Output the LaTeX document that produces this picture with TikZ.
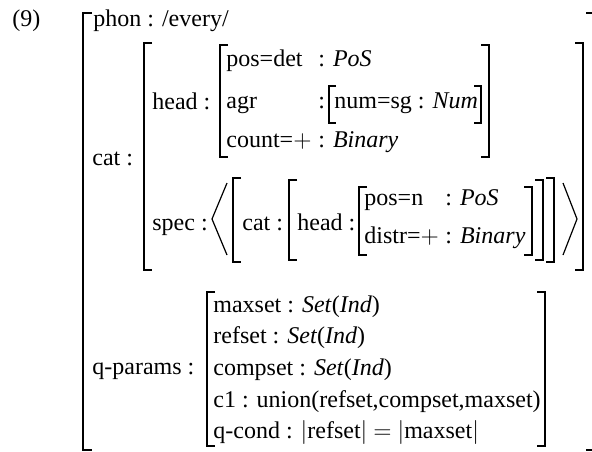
\documentclass[tikz,border=0pt]{standalone}
\usepackage{fontspec}
\setmainfont{Liberation Serif}

% square brackets of the feature matrices: x, top, bottom, tick length
\newcommand{\avmL}[4]{\draw[brk] (#1+#4,#2) -- (#1,#2) -- (#1,#3) -- (#1+#4,#3);}
\newcommand{\avmR}[4]{\draw[brk] (#1-#4,#2) -- (#1,#2) -- (#1,#3) -- (#1-#4,#3);}

\tikzset{
  txt/.style={anchor=base west, inner sep=0pt, font=\fontsize{12}{14}\selectfont},
  brk/.style={line width=0.9pt},
  ang/.style={line width=0.6pt, line join=miter},
}

\begin{document}
\begin{tikzpicture}[x=0.5pt, y=-0.5pt]
\useasboundingbox (0,0) rectangle (592,451);
\clip (0,0) rectangle (592,451);

% example number and top-level matrix
\node[txt] (exnum) at (12,26) {(9)};
\avmL{83}{13}{450}{9}
\avmR{595}{13}{450}{9}
\node[txt] (phon) at (93,26) {phon : /every/};

% cat
\node[txt] (cat) at (92,165) {cat :};
\avmL{144}{43}{270}{8}
\avmR{583}{43}{270}{8}

% cat|head
\node[txt] (head) at (152,109) {head :};
\avmL{220}{45}{157}{8}
\avmR{489}{45}{157}{8}
\node[txt] (posdet) at (226,66) {pos=det};
\node[txt] (posdetval) at (318,66) {: \textit{PoS}};
\node[txt] (agr) at (226,108) {agr};
\node[txt] (agrcolon) at (318,108) {:};
\avmL{329}{86}{123}{7}
\avmR{481}{86}{123}{7}
\node[txt] (numsg) at (334,108) {num=sg : \textit{Num}};
\node[txt] (count) at (226,147) {count=$+$};
\node[txt] (countval) at (318,147) {: \textit{Binary}};

% cat|spec
\node[txt] (spec) at (152,230) {spec :};
\draw[ang] (227,183) -- (212,219) -- (227,255);
\draw[ang] (563,183) -- (577,219) -- (563,255);
\avmL{233}{178}{262}{8}
\avmR{554}{178}{262}{8}
\node[txt] (speccat) at (242,230) {cat :};
\avmL{289}{180}{260}{8}
\avmR{543}{180}{260}{8}
\node[txt] (spechead) at (297,230) {head :};
\avmL{359}{187}{255}{8}
\avmR{532}{187}{255}{8}
\node[txt] (posn) at (364,205) {pos=n};
\node[txt] (posnval) at (445,205) {: \textit{PoS}};
\node[txt] (distr) at (364,243) {distr=$+$};
\node[txt] (distrval) at (445,243) {: \textit{Binary}};

% q-params
\node[txt] (qparams) at (92,374) {q-params :};
\avmL{207}{292}{446}{8}
\avmR{545}{292}{446}{8}
\node[txt] (maxset) at (213,312) {maxset : \textit{Set}(\textit{Ind})};
\node[txt] (refset) at (213,343) {refset : \textit{Set}(\textit{Ind})};
\node[txt] (compset) at (213,375) {compset : \textit{Set}(\textit{Ind})};
\node[txt] (cone) at (213,407) {c1 : union(refset,compset,maxset)};
\node[txt] (qcond) at (213,438) {q-cond : $|$refset$|$ $=$ $|$maxset$|$};
\end{tikzpicture}
\end{document}
